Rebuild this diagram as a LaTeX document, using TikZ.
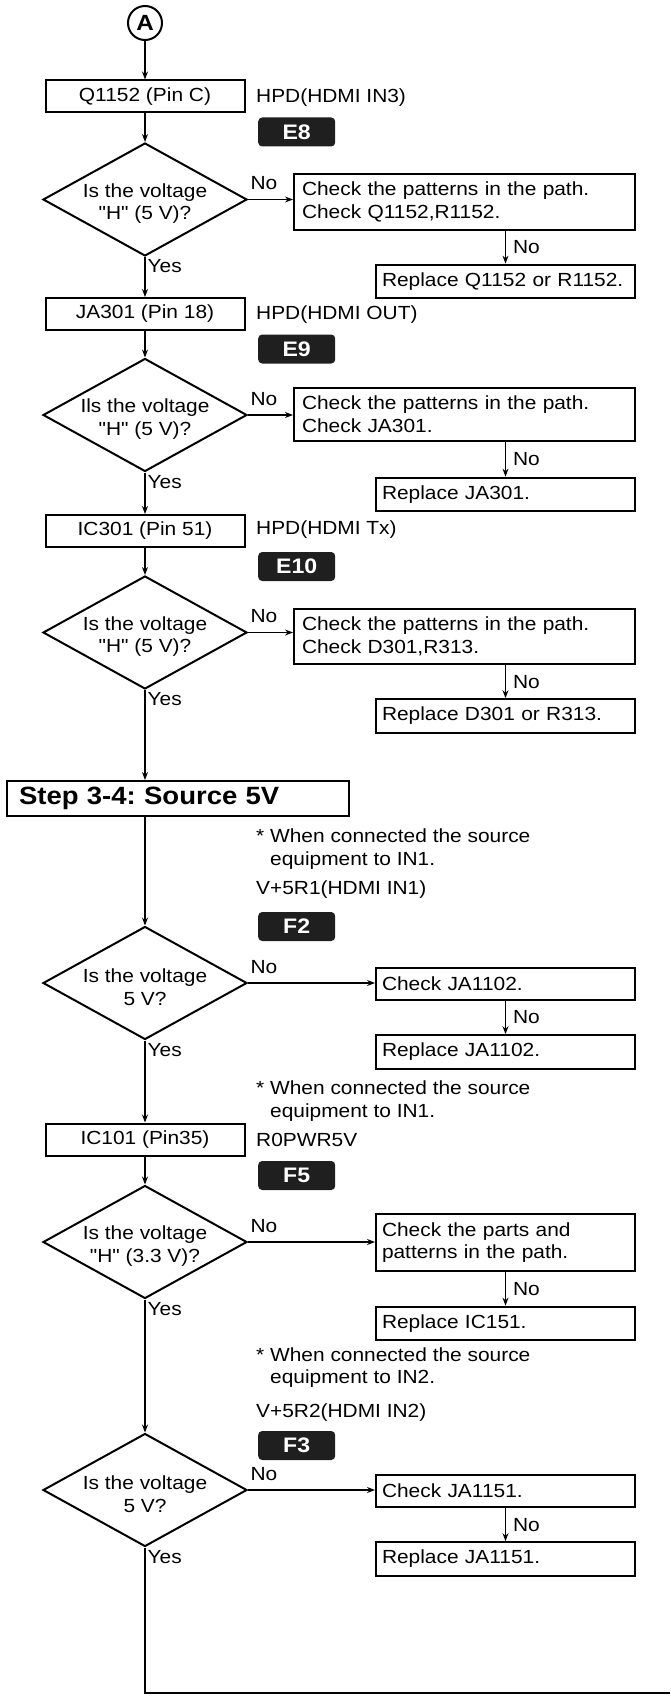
\documentclass[tikz,border=0pt]{standalone}
\usepackage{fontspec}
\setmainfont{Liberation Sans}[FakeStretch=1.1,Ligatures=TeXOff]
\usetikzlibrary{shapes.geometric,arrows.meta}
\frenchspacing

\begin{document}
\begin{tikzpicture}[x=1pt,y=-1pt,
  font=\fontsize{19}{22.8}\selectfont,
  box/.style={draw,line width=2pt,minimum width=199pt,minimum height=32pt,inner sep=0pt},
  dia/.style={draw,diamond,line width=2pt,minimum width=204pt,minimum height=113pt,inner sep=0pt},
  chk/.style={draw,line width=2pt,anchor=west,align=left,text width=#1,inner xsep=8pt,inner ysep=8pt,minimum height=32pt},
  rep/.style={draw,line width=2pt,anchor=west,align=left,text width=247pt,inner xsep=6pt,inner ysep=8pt,minimum height=32pt},
  badge/.style={fill=black!88,rounded corners=4pt,text=white,font=\fontsize{21}{21}\selectfont\bfseries,minimum width=77pt,minimum height=29pt,inner sep=0pt,anchor=west},
  side/.style={anchor=west,inner sep=0pt,align=left},
  lbl/.style={inner sep=2pt},
  arr/.style={line width=1.2pt,-{Stealth[length=8pt,width=6pt]}},
  ln/.style={line width=1.2pt}]
\useasboundingbox (0,0) rectangle (670,1699);

\node[draw,circle,line width=2pt,minimum size=34pt,inner sep=0pt,font=\fontsize{22}{22}\selectfont\bfseries] (A) at (145,23) {A};

\node[box] (q1152) at (145,96.5) {Q1152 (Pin C)};
\node[side] (hpd1) at (256,98) {HPD(HDMI IN3)};
\node[badge] (e8) at (258,132) {E8};
\node[dia] (d1) at (145,199.5) {};
\node[align=center,yshift=-4pt] (t1) at (d1) {Is the voltage\\"H" (5 V)?};
\node[chk=325pt] (chk1) at (293,202) {Check the patterns in the path.\\Check Q1152,R1152.};
\node[rep] (rep1) at (375,281.5) {Replace Q1152 or R1152.};

\node[box] (ja301) at (145,314) {JA301 (Pin 18)};
\node[side] (hpd2) at (256,315) {HPD(HDMI OUT)};
\node[badge] (e9) at (258,349) {E9};
\node[dia] (d2) at (145,415) {};
\node[align=center,yshift=-4pt] (t2) at (d2) {Ils the voltage\\"H" (5 V)?};
\node[chk=325pt] (chk2) at (293,414.5) {Check the patterns in the path.\\Check JA301.};
\node[rep] (rep2) at (375,494.5) {Replace JA301.};

\node[box] (ic301) at (145,531) {IC301 (Pin 51)};
\node[side] (hpd3) at (256,530) {HPD(HDMI Tx)};
\node[badge] (e10) at (258,566.5) {E10};
\node[dia] (d3) at (145,632.5) {};
\node[align=center,yshift=-4pt] (t3) at (d3) {Is the voltage\\"H" (5 V)?};
\node[chk=325pt] (chk3) at (293,636.5) {Check the patterns in the path.\\Check D301,R313.};
\node[rep] (rep3) at (375,716) {Replace D301 or R313.};

\node[draw,line width=2pt,anchor=west,align=left,text width=318pt,inner xsep=12pt,minimum height=35pt,font=\fontsize{25}{29}\selectfont\bfseries] (step) at (6,798.5) {Step 3-4: Source 5V};

\node[side] (note1) at (256,849) {* When connected the source\\\phantom{*} equipment to IN1.};
\node[side] (vin1) at (256,890) {V+5R1(HDMI IN1)};
\node[badge] (f2) at (258,926.5) {F2};
\node[dia] (d4) at (145,983) {};
\node[align=center,yshift=-4pt] (t4) at (d4) {Is the voltage\\5 V?};
\node[rep] (chk4) at (375,983.5) {Check JA1102.};
\node[rep] (rep4) at (375,1052) {Replace JA1102.};

\node[side] (note2) at (256,1101) {* When connected the source\\\phantom{*} equipment to IN1.};
\node[box] (ic101) at (145,1139.5) {IC101 (Pin35)};
\node[side] (pwr) at (256,1140) {R0PWR5V};
\node[badge] (f5) at (258,1175.5) {F5};
\node[dia] (d5) at (145,1242) {};
\node[align=center,yshift=-4pt] (t5) at (d5) {Is the voltage\\"H" (3.3 V)?};
\node[rep] (chk5) at (375,1242.5) {Check the parts and\\patterns in the path.};
\node[rep] (rep5) at (375,1323.5) {Replace IC151.};

\node[side] (note3) at (256,1367.5) {* When connected the source\\\phantom{*} equipment to IN2.};
\node[side] (vin2) at (256,1413) {V+5R2(HDMI IN2)};
\node[badge] (f3) at (258,1445.5) {F3};
\node[dia] (d6) at (145,1490) {};
\node[align=center,yshift=-4pt] (t6) at (d6) {Is the voltage\\5 V?};
\node[rep] (chk6) at (375,1491) {Check JA1151.};
\node[rep] (rep6) at (375,1559) {Replace JA1151.};

\coordinate (end) at (670,1693);

\draw[arr] (A) -- (q1152);
\draw[arr] (q1152) -- (d1);
\draw[arr] (d1.south) -- node[lbl,pos=0,below right] {Yes} (ja301);
\draw[arr] (ja301) -- (d2);
\draw[arr] (d2.south) -- node[lbl,pos=0,below right] {Yes} (ic301);
\draw[arr] (ic301) -- (d3);
\draw[arr] (d3.south) -- node[lbl,pos=0,below right] {Yes} (d3.south |- step.north);
\draw[arr] (d3.south |- step.south) -- (d4.north);
\draw[arr] (d4.south) -- node[lbl,pos=0,below right] {Yes} (ic101);
\draw[arr] (ic101) -- (d5);
\draw[arr] (d5.south) -- node[lbl,pos=0,below right] {Yes} (d6.north);
\draw[ln] (d6.south) -- node[lbl,pos=0,below right] {Yes} (d6.south |- end) -- (end);

\draw[arr] (d1.east) -- node[lbl,pos=0,above right,yshift=7pt] {No} (d1.east -| chk1.west);
\draw[arr] (d2.east) -- node[lbl,pos=0,above right,yshift=7pt] {No} (d2.east -| chk2.west);
\draw[arr] (d3.east) -- node[lbl,pos=0,above right,yshift=7pt] {No} (d3.east -| chk3.west);
\draw[arr] (d4.east) -- node[lbl,pos=0,above right,yshift=7pt] {No} (d4.east -| chk4.west);
\draw[arr] (d5.east) -- node[lbl,pos=0,above right,yshift=7pt] {No} (d5.east -| chk5.west);
\draw[arr] (d6.east) -- node[lbl,pos=0,above right,yshift=7pt] {No} (d6.east -| chk6.west);

\draw[arr] (rep1.north |- chk1.south) -- node[lbl,right=5pt] {No} (rep1.north);
\draw[arr] (rep2.north |- chk2.south) -- node[lbl,right=5pt] {No} (rep2.north);
\draw[arr] (rep3.north |- chk3.south) -- node[lbl,right=5pt] {No} (rep3.north);
\draw[arr] (chk4) -- node[lbl,right=5pt] {No} (rep4);
\draw[arr] (chk5) -- node[lbl,right=5pt] {No} (rep5);
\draw[arr] (chk6) -- node[lbl,right=5pt] {No} (rep6);
\end{tikzpicture}
\end{document}
